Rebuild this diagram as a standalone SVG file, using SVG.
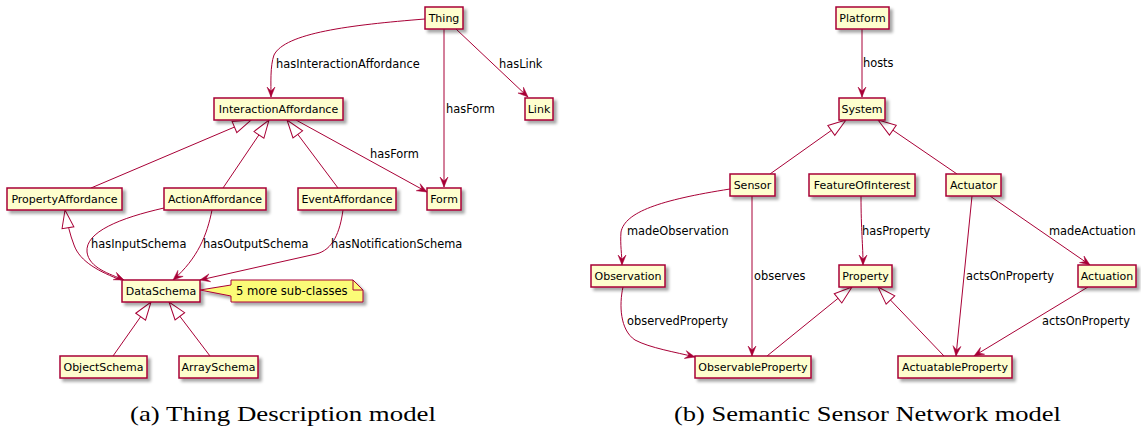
<svg xmlns="http://www.w3.org/2000/svg" width="1141" height="433" viewBox="0 0 1141 433">
<style>
.n rect{fill:#FEFECE;stroke:#A80036;stroke-width:1.5}
.n text,.lbl{font-family:"DejaVu Sans",sans-serif;fill:#000}
.n text{font-size:11px;text-anchor:middle}
.lbl{font-size:11.4px}
.e path{fill:none;stroke:#A80036;stroke-width:1}
.cap{font-family:"Liberation Serif",serif;font-size:21px;fill:#000;text-anchor:middle}
</style>
<defs>
<filter id="sh" x="-20%" y="-30%" width="150%" height="190%">
<feDropShadow dx="3" dy="3" stdDeviation="1.5" flood-color="#000" flood-opacity="0.35"/>
</filter>
<marker id="ar" viewBox="0 0 10 8" markerUnits="userSpaceOnUse" markerWidth="10" markerHeight="8" refX="10" refY="4" orient="auto" overflow="visible">
<path d="M0,0 L10,4 L0,8 L4,4 Z" fill="#A80036" stroke="#A80036" stroke-width="0.5"/>
</marker>
<marker id="tri" viewBox="0 0 18 12" markerUnits="userSpaceOnUse" markerWidth="18" markerHeight="12" refX="18" refY="6" orient="auto" overflow="visible">
<path d="M0,0 L18,6 L0,12 Z" fill="#FFFFFF" stroke="#A80036" stroke-width="1"/>
</marker>
</defs>
<rect width="1141" height="433" fill="#FFFFFF"/>

<g id="connectors" class="e">
<path d="M425,19 C350,25 285,33 274,55 C270,66 271,84 271,97" marker-end="url(#ar)"/>
<path d="M444,29 L444,187" marker-end="url(#ar)"/>
<path d="M456,29 L528,97" marker-end="url(#ar)"/>
<path d="M296,120 L427,192" marker-end="url(#ar)"/>
<path d="M91,188 L251,120" marker-end="url(#tri)"/>
<path d="M223,188 L269,120" marker-end="url(#tri)"/>
<path d="M338,188 L287,120" marker-end="url(#tri)"/>
<path d="M164,208 C120,218 85,232 87,252 C89,268 110,274 124,280" marker-end="url(#ar)"/>
<path d="M121,280 C100,272 80,262 74,245 C70,235 67,222 65,210" marker-end="url(#tri)"/>
<path d="M212,210 C207,235 198,258 173,280" marker-end="url(#ar)"/>
<path d="M343,210 C340,232 333,250 316,254 L200,280" marker-end="url(#ar)"/>
<path d="M113,356 L151,302" marker-end="url(#tri)"/>
<path d="M210,356 L169,302" marker-end="url(#tri)"/>

<path d="M862,29 L862,97" marker-end="url(#ar)"/>
<path d="M770,174 L846,120" marker-end="url(#tri)"/>
<path d="M957,174 L878,120" marker-end="url(#tri)"/>
<path d="M730,189 C660,200 625,212 621,232 C620,245 622,255 622,265" marker-end="url(#ar)"/>
<path d="M752,196 L752,356" marker-end="url(#ar)"/>
<path d="M861,196 C861,230 863,245 863,265" marker-end="url(#ar)"/>
<path d="M623,287 C619,305 620,330 635,340 C650,348 675,352 695,357" marker-end="url(#ar)"/>
<path d="M767,356 L852,287" marker-end="url(#tri)"/>
<path d="M944,356 L878,287" marker-end="url(#tri)"/>
<path d="M972,196 L956,356" marker-end="url(#ar)"/>
<path d="M990,196 L1090,265" marker-end="url(#ar)"/>
<path d="M1088,287 L974,356" marker-end="url(#ar)"/>
</g>

<g id="labels">
<text class="lbl" x="276" y="68">hasInteractionAffordance</text>
<text class="lbl" x="446" y="113">hasForm</text>
<text class="lbl" x="499" y="68">hasLink</text>
<text class="lbl" x="370" y="158">hasForm</text>
<text class="lbl" x="91" y="248">hasInputSchema</text>
<text class="lbl" x="203" y="248">hasOutputSchema</text>
<text class="lbl" x="331" y="248">hasNotificationSchema</text>
<text class="lbl" x="863" y="67">hosts</text>
<text class="lbl" x="627" y="235">madeObservation</text>
<text class="lbl" x="754" y="280">observes</text>
<text class="lbl" x="862" y="235">hasProperty</text>
<text class="lbl" x="627" y="325">observedProperty</text>
<text class="lbl" x="966" y="280">actsOnProperty</text>
<text class="lbl" x="1049" y="235">madeActuation</text>
<text class="lbl" x="1042" y="325">actsOnProperty</text>
</g>

<g id="Thing" class="n"><rect x="425" y="7" width="38" height="22" filter="url(#sh)"/><text x="444" y="22">Thing</text></g>
<g id="InteractionAffordance" class="n"><rect x="214" y="98" width="129" height="22" filter="url(#sh)"/><text x="278.5" y="113">InteractionAffordance</text></g>
<g id="Link" class="n"><rect x="525" y="98" width="28" height="22" filter="url(#sh)"/><text x="539" y="113">Link</text></g>
<g id="PropertyAffordance" class="n"><rect x="7" y="188" width="115" height="22" filter="url(#sh)"/><text x="64.5" y="203">PropertyAffordance</text></g>
<g id="ActionAffordance" class="n"><rect x="164" y="188" width="102" height="22" filter="url(#sh)"/><text x="215" y="203">ActionAffordance</text></g>
<g id="EventAffordance" class="n"><rect x="298" y="188" width="98" height="22" filter="url(#sh)"/><text x="347" y="203">EventAffordance</text></g>
<g id="Form" class="n"><rect x="427" y="188" width="34" height="22" filter="url(#sh)"/><text x="444" y="203">Form</text></g>
<g id="DataSchema" class="n"><rect x="122" y="280" width="78" height="22" filter="url(#sh)"/><text x="161" y="295">DataSchema</text></g>
<g id="ObjectSchema" class="n"><rect x="60" y="356" width="87" height="22" filter="url(#sh)"/><text x="103.5" y="371">ObjectSchema</text></g>
<g id="ArraySchema" class="n"><rect x="179" y="356" width="79" height="22" filter="url(#sh)"/><text x="218.5" y="371">ArraySchema</text></g>
<g id="note">
<path d="M231,280 L353,280 L363,290 L363,302 L231,302 L231,296 L200,290 L231,285 Z" fill="#FBFB77" stroke="#A80036" stroke-width="1" filter="url(#sh)"/>
<path d="M353,280 L353,290 L363,290" fill="none" stroke="#A80036" stroke-width="1"/>
<text x="236" y="295" font-family="DejaVu Sans, sans-serif" font-size="11.6" fill="#000">5 more sub-classes</text>
</g>

<g id="Platform" class="n"><rect x="836" y="7" width="53" height="22" filter="url(#sh)"/><text x="862.5" y="22">Platform</text></g>
<g id="System" class="n"><rect x="839" y="98" width="46" height="22" filter="url(#sh)"/><text x="862" y="113">System</text></g>
<g id="Sensor" class="n"><rect x="730" y="174" width="45" height="22" filter="url(#sh)"/><text x="752.5" y="189">Sensor</text></g>
<g id="FeatureOfInterest" class="n"><rect x="809" y="174" width="106" height="22" filter="url(#sh)"/><text x="862" y="189">FeatureOfInterest</text></g>
<g id="Actuator" class="n"><rect x="946" y="174" width="55" height="22" filter="url(#sh)"/><text x="973.5" y="189">Actuator</text></g>
<g id="Observation" class="n"><rect x="591" y="265" width="74" height="22" filter="url(#sh)"/><text x="628" y="280">Observation</text></g>
<g id="Property" class="n"><rect x="839" y="265" width="53" height="22" filter="url(#sh)"/><text x="865.5" y="280">Property</text></g>
<g id="Actuation" class="n"><rect x="1078" y="265" width="58" height="22" filter="url(#sh)"/><text x="1107" y="280">Actuation</text></g>
<g id="ObservableProperty" class="n"><rect x="695" y="356" width="116" height="22" filter="url(#sh)"/><text x="753" y="371">ObservableProperty</text></g>
<g id="ActuatableProperty" class="n"><rect x="898" y="356" width="114" height="22" filter="url(#sh)"/><text x="955" y="371">ActuatableProperty</text></g>

<text class="cap" x="283" y="421" textLength="306" lengthAdjust="spacingAndGlyphs">(a) Thing Description model</text>
<text class="cap" x="867.5" y="421" textLength="387" lengthAdjust="spacingAndGlyphs">(b) Semantic Sensor Network model</text>
</svg>
